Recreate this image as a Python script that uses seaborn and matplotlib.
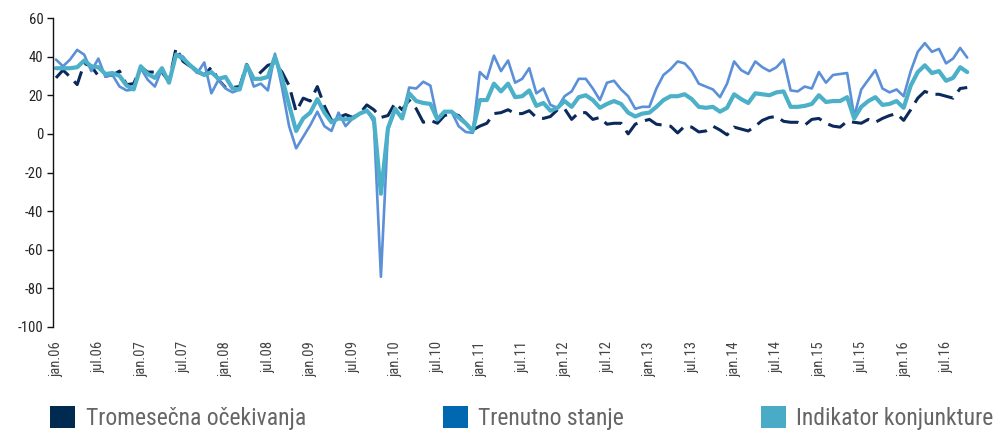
import numpy as np
import pandas as pd
import matplotlib
matplotlib.use("Agg")
import matplotlib.pyplot as plt
from matplotlib import font_manager
from matplotlib.patches import Patch
import seaborn as sns

# ---- data (monthly, Jan 2006 - Oct 2016) ----
tromesecna = [29, 33, 29.5, 25.5, 36.5, 35, 30, 30, 30.5, 32.5, 25.5, 26,
              34.5, 32, 32, 32, 27, 44.5, 37.5, 35, 32, 30.5, 34.5, 28,
              24, 24, 24.5, 36, 28.5, 32, 35.5, 36.5, 32, 25, 11.5, 18.5,
              17, 24.5, 14.5, 7, 8.5, 10, 8.5, 10.5, 15, 12.5, 8.5, 9.5,
              16, 12.5, 17.5, 13, 6, 7, 5.5, 9.5, 10.5, 9.5, 5.5, 2,
              4, 5.5, 10.5, 11, 12.5, 10.5, 10.5, 12, 8.5, 8, 9, 12.5,
              13, 7.5, 11, 11, 7.5, 8.5, 5, 5.5, 5.5, 0, 5, 6.5,
              7.5, 5, 4.5, 4, 0.5, 4, 3.5, 1, 1.5, 4, 2, -0.5,
              3.5, 2.5, 1.5, 4, 7, 8.5, 9, 6.5, 6, 6, 4.5, 7.5,
              8, 5.5, 4, 3.5, 6.5, 6, 5.5, 7.5, 6, 8, 9.5, 10.5,
              7, 12.5, 18.5, 22, 20.5, 20.5, 19.5, 18.5, 23.5, 24]

trenutno = [38.5, 35, 38.5, 43.5, 41, 32.5, 39, 29.5, 30.5, 24.5, 22.5, 23,
            34, 28, 24.5, 33.5, 27, 41.5, 40, 35, 31.5, 37, 21, 28,
            23.5, 21.5, 23, 35.8, 24.5, 26, 22.5, 41.5, 24, 4, -7.5, -1.5,
            4.5, 11.5, 4, 1.5, 11, 4, 8, 10.5, 12.5, 6, -74, 2,
            12, 8.5, 24, 23.5, 27, 25, 7.5, 11.5, 11.5, 4, 1, 0.5,
            32, 28.5, 40.5, 32.5, 38, 26.5, 28.5, 34, 21, 23.5, 15, 13.5,
            19.5, 22, 28.5, 28.5, 23.5, 17.5, 26.5, 27.5, 23, 19.5, 13, 14,
            14, 23.5, 30.5, 33.5, 37.5, 36.5, 32.5, 26, 24.5, 23, 19, 26,
            37.5, 33, 31, 37.5, 34.5, 32.5, 34.5, 38.5, 22.5, 22, 24.5, 23.5,
            32, 26.5, 30.5, 31, 31.5, 9, 23, 28, 33, 23.5, 21.5, 23,
            19.5, 32.5, 42.5, 47, 42.5, 44, 36.5, 39, 44.5, 39.5]

indikator = [34, 34, 34, 34.5, 38, 35, 34.5, 31, 31.5, 30, 25, 23,
             35, 31, 29, 34, 26.5, 41, 39, 35.5, 32.5, 30.5, 32, 28.5,
             29.5, 23.5, 23, 35.5, 28.5, 28.5, 29.5, 40, 29, 15, 1.5, 8,
             11, 18, 11, 6, 8, 7.5, 8, 10.5, 12, 8, -31, 3,
             13, 8, 21, 17, 16, 15.5, 7.5, 11.5, 11.5, 8.5, 5.5, 1.5,
             17.5, 17.5, 26, 22, 26, 19, 19.5, 22.5, 14.5, 16, 12, 13.5,
             17, 14, 19, 20, 17.5, 13.5, 15.5, 17, 15.5, 11, 9, 10.5,
             11, 14, 17.5, 19.5, 19.5, 20.5, 18, 14, 13.5, 14, 11.5, 13.5,
             20.5, 18, 16, 21, 20.5, 20, 21.5, 22, 14, 14, 14.5, 15.5,
             20, 16.5, 17, 17, 19, 8, 14, 17, 19, 15, 15.5, 17,
             13.5, 25, 32, 35.5, 31.5, 32.5, 27.5, 29, 34.5, 32]

tick_labels = ["jan.06", "jul.06", "jan.07", "jul.07", "jan.08", "jul.08",
               "jan.09", "jul.09", "jan.10", "jul.10", "jan.11", "jul.11",
               "jan.12", "jul.12", "jan.13", "jul.13", "jan.14", "jul.14",
               "jan.15", "jul.15", "jan.16", "jul.16"]
y_ticks = [60, 40, 20, 0, -20, -40, -60, -80, -100]

names = ["Tromesečna očekivanja", "Trenutno stanje", "Indikator konjunkture"]

# ---- font ----
avail = {f.name for f in font_manager.fontManager.ttflist}
fam = "DejaVu Sans"
for cand in ["Liberation Sans Narrow", "Roboto Condensed", "Open Sans Condensed", "Noto Sans Condensed", "Liberation Sans"]:
    if cand in avail:
        fam = cand
        break

sns.set_theme(style="white")
plt.rcParams["font.family"] = [fam, "DejaVu Sans"]

df = pd.DataFrame({"t": np.arange(len(indikator)),
                   names[0]: tromesecna, names[1]: trenutno, names[2]: indikator})

fig = plt.figure(figsize=(9.98, 4.32), dpi=100)
ax = fig.add_axes([53 / 998, 1 - 327 / 432, (975 - 53) / 998, (327 - 18) / 432])

sns.lineplot(data=df, x="t", y=names[0], ax=ax, color="#0b2a5b", linewidth=2.2,
             dashes=False, legend=False).lines[-1].set_dashes([6, 2.6])
sns.lineplot(data=df, x="t", y=names[1], ax=ax, color="#5b90d8", linewidth=1.9, legend=False)
sns.lineplot(data=df, x="t", y=names[2], ax=ax, color="#4bb0c8", linewidth=3.0, legend=False)

ax.set_ylim(-100, 60)
ax.set_xlim(-0.42, 130.1)
ax.set_yticks(y_ticks)
ax.set_yticklabels([str(v) for v in y_ticks], fontsize=10.5, color="#222222")
ax.set_xticks(np.arange(0, len(tick_labels) * 6, 6))
ax.set_xticklabels(tick_labels, rotation=90, fontsize=10.5, color="#444444")
ax.set_xlabel("")
ax.set_ylabel("")
for s in ["top", "right", "bottom"]:
    ax.spines[s].set_visible(False)
ax.spines["left"].set_color("#111111")
ax.spines["left"].set_linewidth(1.0)
ax.tick_params(axis="y", direction="out", length=4, width=1.0, color="#111111", left=True, pad=3)
ax.tick_params(axis="x", length=0, pad=10)
ax.grid(False)

handles = [Patch(facecolor="#002a50", edgecolor="none"),
           Patch(facecolor="#0068b0", edgecolor="none"),
           Patch(facecolor="#4aabc6", edgecolor="none")]
fig.legend(handles, names, loc="lower left", ncol=3, mode="expand",
           bbox_to_anchor=(48 / 998, 0.0, (996 - 48) / 998, 34 / 432),
           frameon=False, fontsize=17, labelcolor="#666666",
           handlelength=1.05, handleheight=1.05, handletextpad=0.45,
           borderpad=0.1, borderaxespad=0.0)

fig.savefig("out.png", dpi=100)
